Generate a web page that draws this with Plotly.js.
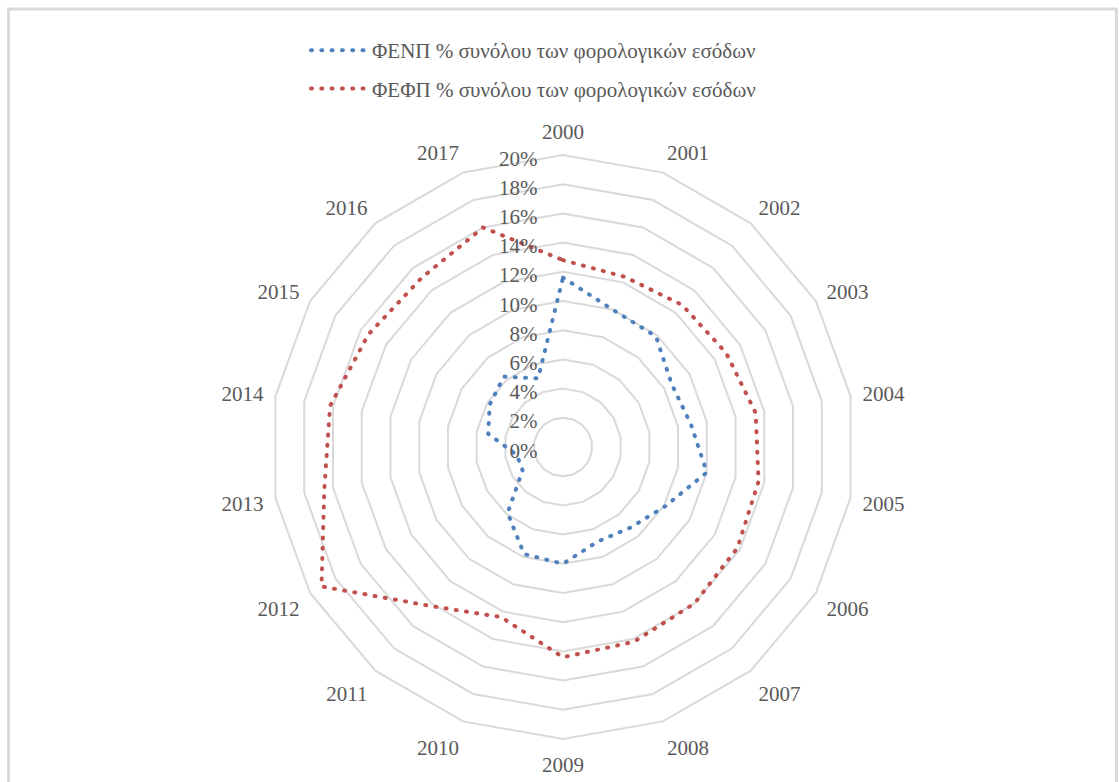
<!DOCTYPE html>
<html>
<head>
<meta charset="utf-8">
<script src="https://cdn.plot.ly/plotly-3.0.1.min.js"></script>
<style>
  html, body { margin: 0; padding: 0; background: #ffffff; }
  #chart { width: 1119px; height: 782px; }
  path.js-line { stroke-linecap: round !important; }
</style>
</head>
<body>
<div id="chart"></div>
<script>
const years = ['2000','2001','2002','2003','2004','2005','2006','2007','2008','2009','2010','2011','2012','2013','2014','2015','2016','2017'];
const fenpName = 'ΦΕΝΠ % συνόλου των φορολογικών εσόδων';
const fefpName = 'ΦΕΦΠ % συνόλου των φορολογικών εσόδων';
const fenpValues = [11.6, 10.0, 9.9, 8.6, 8.9, 10.0, 8.1, 7.2, 6.9, 8.0, 7.8, 5.9, 3.2, 3.2, 5.2, 5.8, 6.3, 5.0];
const fefpValues = [12.8, 12.4, 12.7, 12.9, 13.4, 13.6, 13.8, 14.0, 14.2, 14.4, 12.4, 14.2, 19.1, 16.6, 16.2, 15.4, 15.1, 16.0];

function closed(a) { return a.concat([a[0]]); }

const serif = 'Liberation Serif';

const traces = [
  {
    type: 'scatterpolar', mode: 'lines', name: fenpName, legendgroup: 'a',
    r: closed(fenpValues), theta: closed(years),
    line: { color: '#4F81BD', width: 4, dash: '1px,9.3px' },
    hoverinfo: 'skip'
  },
  {
    type: 'scatterpolar', mode: 'lines', name: fefpName, legendgroup: 'b',
    r: closed(fefpValues), theta: closed(years),
    line: { color: '#C0504D', width: 4, dash: '1px,9.3px' },
    hoverinfo: 'skip'
  }
];

const W = 1119, H = 782;
const cx = 563, cy = 447, R = 292;

const layout = {
  width: W, height: H,
  margin: { l: 0, r: 0, t: 0, b: 0 },
  paper_bgcolor: '#ffffff',
  font: { family: serif, size: 21, color: '#595959' },
  showlegend: true,
  legend: {
    orientation: 'v', x: 0.5 - 26 / W, xanchor: 'center', y: 1 - 30 / H, yanchor: 'top',
    itemwidth: 56, tracegroupgap: 8, font: { family: serif, size: 21, color: '#595959' },
    bgcolor: 'rgba(0,0,0,0)'
  },
  polar: {
    domain: { x: [(cx - R) / W, (cx + R) / W], y: [(H - cy - R) / H, (H - cy + R) / H] },
    bgcolor: '#ffffff',
    gridshape: 'linear',
    angularaxis: {
      type: 'category', categoryorder: 'array', categoryarray: years,
      rotation: 90, direction: 'clockwise',
      showgrid: false, showline: true, linecolor: '#D9D9D9', linewidth: 2,
      ticks: 'outside', ticklen: 7, tickcolor: 'rgba(0,0,0,0)',
      tickfont: { family: serif, size: 21, color: '#595959' }
    },
    radialaxis: {
      range: [0, 20], dtick: 2, tick0: 0, ticksuffix: '%',
      angle: 90, side: 'counterclockwise',
      showline: false, showgrid: true, gridcolor: '#D9D9D9', gridwidth: 2,
      ticks: 'outside', ticklen: 6, tickcolor: 'rgba(0,0,0,0)',
      tickfont: { family: serif, size: 21, color: '#595959' }
    }
  },
  shapes: [
    {
      type: 'rect', xref: 'paper', yref: 'paper',
      x0: 8.5 / W, x1: 1116.5 / W, y0: -0.05, y1: 1 - 9 / H,
      line: { color: '#D9D9D9', width: 3 }, fillcolor: 'rgba(0,0,0,0)', layer: 'below'
    }
  ]
};

Plotly.newPlot('chart', traces, layout, { displayModeBar: false, staticPlot: true });
</script>
</body>
</html>
